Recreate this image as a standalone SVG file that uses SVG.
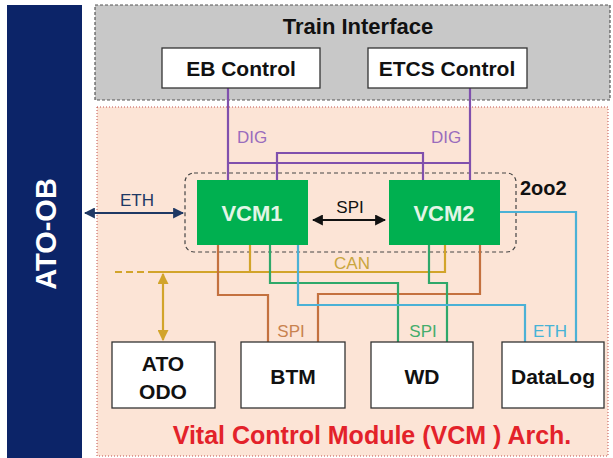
<svg xmlns="http://www.w3.org/2000/svg" width="613" height="458" viewBox="0 0 613 458">
<defs>
<style>
text{font-family:"Liberation Sans",Arial,sans-serif;font-weight:bold}
.box{fill:#fff;stroke:#333;stroke-width:1.3}
.bt{font-size:21px;fill:#111;text-anchor:middle}
.vcm{fill:#00b050}
.vt{font-size:22px;fill:#e2f5e6;text-anchor:middle}
.lab{font-size:17px;font-weight:normal;text-anchor:middle}
.w{fill:none;stroke-width:2.2}
.pur{stroke:#8050ad}
.gold{stroke:#d2a42a}
.brn{stroke:#c4713f}
.grn{stroke:#2fa86a}
.blu{stroke:#4bb1d6}
</style>
<marker id="aN" viewBox="0 0 10 10" refX="9" refY="5" markerWidth="5" markerHeight="5" orient="auto-start-reverse"><path d="M0,0 L10,5 L0,10 Z" fill="#1f3864"/></marker>
<marker id="aK" viewBox="0 0 10 10" refX="9" refY="5" markerWidth="5" markerHeight="5" orient="auto-start-reverse"><path d="M0,0 L10,5 L0,10 Z" fill="#111"/></marker>
<marker id="aG" viewBox="0 0 10 10" refX="9" refY="5" markerWidth="5" markerHeight="5" orient="auto-start-reverse"><path d="M0,0 L10,5 L0,10 Z" fill="#d2a42a"/></marker>
</defs>
<rect width="613" height="458" fill="#fff"/>
<g id="ato-ob">
<rect x="7" y="5" width="75" height="453" fill="#0c2468"/>
<text transform="translate(56,234) rotate(-90)" font-size="29" fill="#fff" text-anchor="middle">ATO-OB</text>
</g>
<g id="train-interface">
<rect x="95" y="5" width="515" height="95" fill="#c8c8c8" stroke="#555" stroke-width="1.2" stroke-dasharray="3,2"/>
<text x="358" y="34" font-size="22" fill="#111" text-anchor="middle">Train Interface</text>
</g>
<g id="vcm-arch">
<rect x="97" y="107" width="511" height="349" fill="#fce4d6" stroke="#c0504d" stroke-width="1" stroke-dasharray="1,2"/>
<text x="372" y="444" font-size="25" fill="#e3222a" text-anchor="middle">Vital Control Module (VCM ) Arch.</text>
</g>
<g id="twooo2">
<rect x="185" y="173" width="331" height="79" rx="9" fill="none" stroke="#444" stroke-width="1.2" stroke-dasharray="4,3"/>
<text x="520" y="195" font-size="20" fill="#111">2oo2</text>
</g>
<g id="connectors">
<path class="w pur" d="M228,88 V180 M228,163 H470 M470,88 V180 M277,180 V153 H423 V180"/>
<text class="lab" x="252" y="143" fill="#9a6cbd">DIG</text>
<text class="lab" x="446" y="143" fill="#9a6cbd">DIG</text>
<path class="w" stroke="#1f3864" d="M85,213 H183" marker-start="url(#aN)" marker-end="url(#aN)"/>
<text class="lab" x="137" y="206" fill="#1f3864">ETH</text>
<path class="w" stroke="#111" d="M313,220 H385" marker-start="url(#aK)" marker-end="url(#aK)"/>
<text class="lab" x="350" y="213" fill="#111">SPI</text>
<path class="w gold" d="M115,272 H150" stroke-dasharray="7,4"/>
<path class="w gold" d="M150,272 H445 V245 M250,245 V272"/>
<path class="w gold" d="M163,274 V340" marker-start="url(#aG)" marker-end="url(#aG)"/>
<text class="lab" x="352" y="269" fill="#c9a63e">CAN</text>
<path class="w brn" d="M218,245 V295 H268 V342 M480,245 V294 H318 V342"/>
<text class="lab" x="291" y="337" fill="#c9824f">SPI</text>
<path class="w grn" d="M270,245 V283 H398 V342 M429,245 V283 H447 V342"/>
<text class="lab" x="423" y="337" fill="#44ad6c">SPI</text>
<path class="w blu" d="M298,245 V305 H525 V342 M500,212 H576 V342"/>
<text class="lab" x="550" y="337" fill="#46b3d6">ETH</text>
</g>
<g id="eb-control"><rect class="box" x="162" y="48" width="158" height="40"/><text class="bt" x="241" y="76">EB Control</text></g>
<g id="etcs-control"><rect class="box" x="368" y="48" width="159" height="40"/><text class="bt" x="447" y="76">ETCS Control</text></g>
<g id="vcm1"><rect class="vcm" x="197" y="180" width="111" height="65"/><text class="vt" x="252" y="221">VCM1</text></g>
<g id="vcm2"><rect class="vcm" x="389" y="180" width="111" height="65"/><text class="vt" x="444" y="221">VCM2</text></g>
<g id="ato-odo"><rect class="box" x="112" y="342" width="103" height="66"/><text class="bt" x="163" y="371">ATO</text><text class="bt" x="163" y="399">ODO</text></g>
<g id="btm"><rect class="box" x="241" y="342" width="104" height="66"/><text class="bt" x="293" y="384">BTM</text></g>
<g id="wd"><rect class="box" x="371" y="342" width="102" height="66"/><text class="bt" x="422" y="384">WD</text></g>
<g id="datalog"><rect class="box" x="502" y="342" width="102" height="66"/><text class="bt" x="553" y="384">DataLog</text></g>
</svg>
